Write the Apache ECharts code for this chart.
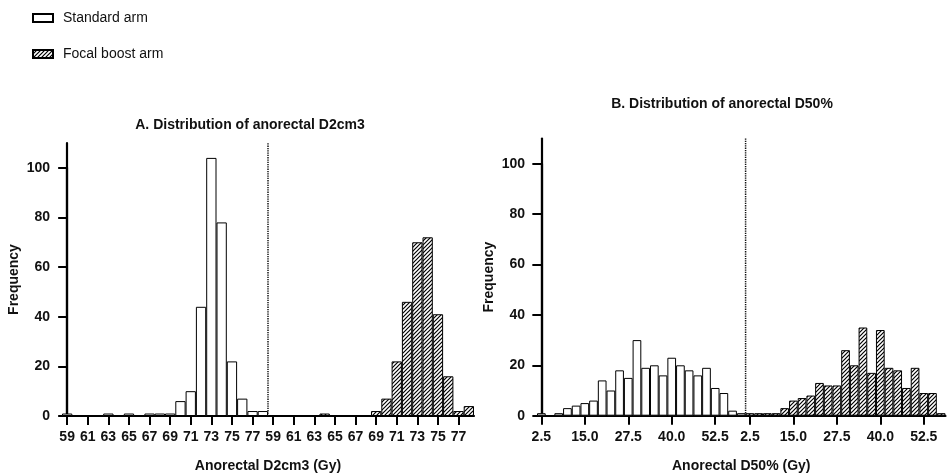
<!DOCTYPE html>
<html><head><meta charset="utf-8">
<script src="https://cdn.jsdelivr.net/npm/echarts@6/dist/echarts.min.js"></script>
<style>html,body{margin:0;padding:0;background:#fff}#c{width:950px;height:474px}</style>
</head><body><div id="c"></div>
<script>
// ---- data ----
const d2Labels = ['59','60','61','62','63','64','65','66','67','68','69','70','71','72','73','74','75','76','77','78'];
const d2Standard = [1,0,0,0,1,0,1,0,1,1,1,6,10,44,104,78,22,7,2,2];
const d2Boost    = [0,0,0,0,0,1,0,0,0,0,2,7,22,46,70,72,41,16,2,4];

const d50Labels = ['2.5','5.0','7.5','10.0','12.5','15.0','17.5','20.0','22.5','25.0','27.5','30.0','32.5','35.0','37.5','40.0','42.5','45.0','47.5','50.0','52.5','55.0','57.5','60.0'];
const d50Standard = [1,0,1,3,4,5,6,14,10,18,15,30,19,20,16,23,20,18,16,19,11,9,2,1];
const d50Boost    = [1,1,1,1,3,6,7,8,13,12,12,26,20,35,17,34,19,18,11,19,9,9,1];

const yTickMax = 100;   // last labelled tick
const yMax = 110;       // top of the axis line
const yStep = 20;

// ---- build ----
const FONT = 'Liberation Sans, Arial, sans-serif';
const INK = '#111';

function hatch() {
  const s = 4, c = document.createElement('canvas');
  c.width = s; c.height = s;
  const g = c.getContext('2d');
  g.fillStyle = '#fff'; g.fillRect(0,0,s,s);
  g.strokeStyle = '#000'; g.lineWidth = 1.2;
  g.beginPath();
  g.moveTo(-1, s+1); g.lineTo(s+1, -1);
  g.moveTo(-1, 1); g.lineTo(1, -1);
  g.moveTo(s-1, s+1); g.lineTo(s+1, s-1);
  g.stroke();
  return c;
}
const hatchPattern = { image: hatch(), repeat: 'repeat' };

const leftCats = d2Labels.concat(d2Labels);
const leftStd = d2Standard.concat(d2Labels.map(() => '-'));
const leftBoost = d2Labels.map(() => '-').concat(d2Boost);

const rightCats = d50Labels.concat(d50Labels.slice(0, d50Boost.length));
const rightStd = d50Standard.concat(d50Boost.map(() => '-'));
const rightBoost = d50Standard.map(() => '-').concat(d50Boost);

const nL = leftCats.length, nR = rightCats.length;
const splitL = d2Standard.length - 0.5;
const splitR = d50Standard.length - 0.5;

function rightInterval(i) {
  const k = i < d50Standard.length ? i : i - d50Standard.length;
  return k % 5 === 0;
}

const labelStyle = { color: INK, fontFamily: FONT, fontWeight: 'bold', fontSize: 14 };
const axisLineStyle = { lineStyle: { color: '#000', width: 2.2 } };
const nameStyle = { color: INK, fontFamily: FONT, fontWeight: 'bold', fontSize: 14 };

// grid geometry (px)
const G = {
  L: { left: 62, right: 476, top: 143, bottom: 58, outerBoundsMode: 'none', containLabel: false },
  R: { left: 537, right: 4.5, top: 138.5, bottom: 58.3, outerBoundsMode: 'none', containLabel: false }
};
function tickGrid(g) {
  const h = 474 - g.top - g.bottom;
  return Object.assign({}, g, { top: g.top + h * (yMax - yTickMax) / yMax });
}

function catAxis(gridIndex, data, interval, name) {
  return {
    type: 'category', gridIndex, data,
    boundaryGap: true,
    axisLine: axisLineStyle,
    axisTick: { show: true, alignWithLabel: true, interval, length: 9, lineStyle: { color: '#000', width: 2 } },
    axisLabel: Object.assign({ interval, margin: 14 }, labelStyle),
    name, nameLocation: 'middle', nameGap: 43,
    nameTextStyle: nameStyle
  };
}
// full-height axis: line + name only
function mainY(gridIndex) {
  return {
    type: 'value', gridIndex, min: 0, max: yMax,
    splitLine: { show: false },
    axisLine: Object.assign({ show: true }, axisLineStyle),
    axisTick: { show: false }, axisLabel: { show: false },
    name: 'Frequency', nameLocation: 'middle', nameGap: 41,
    nameTextStyle: nameStyle
  };
}
// tick/label axis, 0..100
function tickY(gridIndex) {
  return {
    type: 'value', gridIndex, min: 0, max: yTickMax, interval: yStep,
    splitLine: { show: false },
    axisLine: Object.assign({ show: true }, axisLineStyle),
    axisTick: { show: true, length: 9, lineStyle: { color: '#000', width: 2 } },
    axisLabel: Object.assign({ margin: 12 }, labelStyle)
  };
}
function hiddenX(gridIndex, n) {
  return { type: 'value', gridIndex, min: -0.5, max: n - 0.5, show: false };
}

const stdStyle = { color: '#fff', borderColor: '#000', borderWidth: 1 };
const boostStyle = { color: hatchPattern, borderColor: '#000', borderWidth: 1 };

function bars(name, xi, yi, data, style) {
  return { name, type: 'bar', xAxisIndex: xi, yAxisIndex: yi, data,
    barGap: '-100%', barCategoryGap: 0, itemStyle: style, silent: true, animation: false };
}
function divider(xi, yi, x) {
  return { type: 'line', xAxisIndex: xi, yAxisIndex: yi, data: [[x, 0], [x, yMax]],
    symbol: 'none', silent: true, animation: false,
    lineStyle: { color: '#111', width: 1.5, type: [1.3, 1] } };
}

const option = {
  animation: false,
  backgroundColor: '#fff',
  legend: {
    orient: 'vertical', left: 27, top: 6, itemWidth: 20, itemHeight: 8, itemGap: 22,
    icon: 'rect',
    data: ['Standard arm', 'Focal boost arm'],
    textStyle: { color: INK, fontFamily: FONT, fontSize: 14, padding: [0,0,0,5] },
    selectedMode: false
  },
  title: [
    { text: 'A. Distribution of anorectal D2cm3', left: 250, top: 118, textAlign: 'center', padding: 0,
      textStyle: { color: INK, fontFamily: FONT, fontWeight: 'bold', fontSize: 14 } },
    { text: 'B. Distribution of anorectal D50%', left: 722, top: 97, textAlign: 'center', padding: 0,
      textStyle: { color: INK, fontFamily: FONT, fontWeight: 'bold', fontSize: 14 } }
  ],
  grid: [ G.L, G.R, tickGrid(G.L), tickGrid(G.R) ],
  xAxis: [
    catAxis(0, leftCats, 1, 'Anorectal D2cm3 (Gy)'),
    catAxis(1, rightCats, rightInterval, 'Anorectal D50% (Gy)'),
    hiddenX(0, nL),
    hiddenX(1, nR),
    hiddenX(2, nL),
    hiddenX(3, nR)
  ],
  yAxis: [ mainY(0), mainY(1), tickY(2), tickY(3) ],
  series: [
    bars('Standard arm', 0, 0, leftStd, stdStyle),
    bars('Focal boost arm', 0, 0, leftBoost, boostStyle),
    bars('Standard arm', 1, 1, rightStd, stdStyle),
    bars('Focal boost arm', 1, 1, rightBoost, boostStyle),
    divider(2, 0, splitL),
    divider(3, 1, splitR)
  ]
};
const chart = echarts.init(document.getElementById('c'), null, { renderer: 'canvas' });
chart.setOption(option);
</script>
</body></html>
